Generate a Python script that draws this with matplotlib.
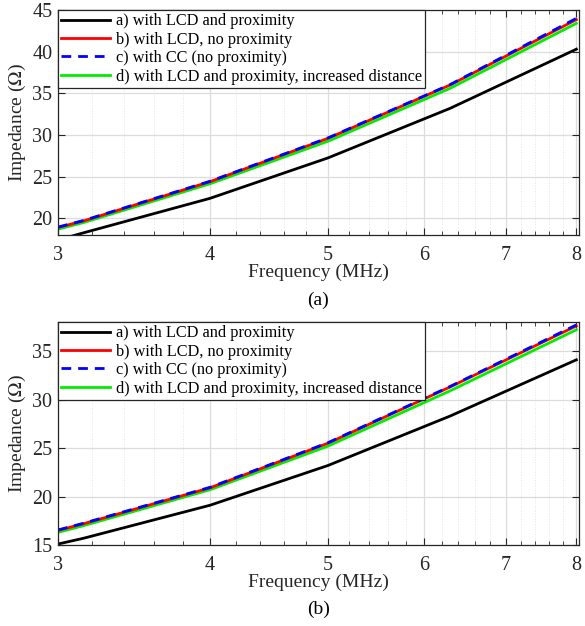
import matplotlib
matplotlib.use("Agg")
import matplotlib.pyplot as plt
from matplotlib.ticker import FixedLocator, NullFormatter

plt.rcParams['font.family'] = ['Liberation Serif', 'DejaVu Serif']
plt.rcParams['mathtext.fontset'] = 'stix'

freq = [3.0, 3.15, 4.0, 5.0, 6.3, 8.0]

labels = ["a) with LCD and proximity",
          "b) with LCD, no proximity",
          "c) with CC (no proximity)",
          "d) with LCD and proximity, increased distance"]

# panel (a)
a_lcd_prox = [17.4, 18.27, 22.4, 27.25, 33.2, 40.3]
a_lcd_noprox = [18.9, 19.7, 24.4, 29.6, 36.0, 43.85]
a_cc = [18.95, 19.75, 24.45, 29.65, 36.05, 44.0]
a_lcd_dist = [18.7, 19.5, 24.15, 29.25, 35.6, 43.4]

# panel (b)
b_lcd_prox = [15.1, 15.7, 19.1, 23.2, 28.3, 34.1]
b_lcd_noprox = [16.5, 17.2, 20.9, 25.5, 31.3, 37.6]
b_cc = [16.55, 17.25, 20.95, 25.55, 31.35, 37.7]
b_lcd_dist = [16.3, 17.0, 20.7, 25.2, 30.9, 37.2]

xticks = [3, 4, 5, 6, 7, 8]
minor_xticks = [3.2, 3.4, 3.6, 3.8, 4.2, 4.4, 4.6, 4.8, 5.2, 5.4, 5.6, 5.8,
                6.2, 6.4, 6.6, 6.8, 7.2, 7.4, 7.6, 7.8]

fig = plt.figure(figsize=(5.85, 6.26), dpi=100)
ax1 = fig.add_axes([0.0991, 0.6246, 0.8906, 0.3594])
ax2 = fig.add_axes([0.0991, 0.1294, 0.8906, 0.3562])

styles = [dict(color='black', lw=2.0, ls='-'),
          dict(color='#ff0000', lw=2.0, ls='-'),
          dict(color='#0000ff', lw=2.0, ls=(0, (3.5, 2.5))),
          dict(color='#00ee00', lw=2.0, ls='-')]

def draw(ax, series, ylim, yticks, tag):
    order = [0, 3, 1, 2]
    lines = [None] * 4
    for i in order:
        ln, = ax.plot(freq, series[i], label=labels[i], **styles[i])
        lines[i] = ln
    ax.set_xscale('log')
    ax.set_xlim(3, 8.04)
    ax.set_ylim(*ylim)
    ax.xaxis.set_major_locator(FixedLocator(xticks))
    ax.xaxis.set_minor_locator(FixedLocator(minor_xticks))
    ax.xaxis.set_minor_formatter(NullFormatter())
    ax.set_xticklabels([str(t) for t in xticks])
    ax.set_yticks(yticks)
    ax.tick_params(which='both', direction='in', top=True, right=True,
                   labelsize=14.5, colors='#262626', labelcolor='#262626')
    ax.tick_params(which='major', length=5, width=0.8)
    ax.tick_params(axis='x', which='major', pad=8)
    ax.tick_params(axis='y', which='major', pad=4)
    ax.tick_params(which='minor', length=3, width=0.6)
    ax.grid(True, which='major', color='#dcdcdc', lw=0.9)
    ax.grid(True, which='minor', axis='x', color='#e4e4e4', lw=0.7, ls=':')
    ax.set_axisbelow(True)
    for s in ax.spines.values():
        s.set_color('#262626')
        s.set_linewidth(0.9)
    ax.set_xlabel('Frequency (MHz)', fontsize=14, color='#262626', labelpad=-1)
    ax.set_ylabel('Impedance ($\\Omega$)', fontsize=14, color='#262626', labelpad=3)
    leg = ax.legend(lines, labels, loc='upper left', bbox_to_anchor=(0.0, 1.0),
                    fontsize=11.7, frameon=True, fancybox=False, framealpha=1,
                    edgecolor='#262626', borderpad=0.2, labelspacing=0.15,
                    handlelength=3.0, handletextpad=0.35, borderaxespad=0.0)
    leg.get_frame().set_linewidth(0.9)
    ax.text(0.5, -0.25, tag, transform=ax.transAxes, ha='center', va='top',
            fontsize=14, color='black')

draw(ax1, [a_lcd_prox, a_lcd_noprox, a_cc, a_lcd_dist], (18, 45),
     [20, 25, 30, 35, 40, 45], '(a)')
draw(ax2, [b_lcd_prox, b_lcd_noprox, b_cc, b_lcd_dist], (15, 38),
     [15, 20, 25, 30, 35], '(b)')

fig.savefig('out.png', dpi=100)
